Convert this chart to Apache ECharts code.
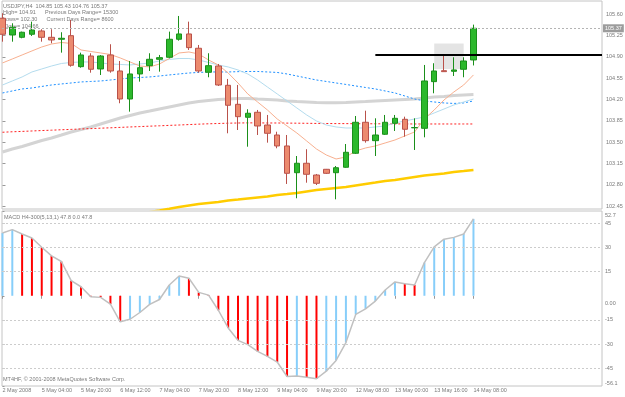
<!DOCTYPE html>
<html>
<head>
<meta charset="utf-8">
<script src="https://cdn.jsdelivr.net/npm/echarts@6/dist/echarts.min.js"></script>
<style>
  html, body { margin: 0; padding: 0; background: #fff; }
  #chart { width: 625px; height: 397px; }
</style>
</head>
<body>
<div id="chart"></div>
<script>
// USDJPY H4 bars, one entry per bar (index 0 = leftmost, partly cut off)
const opens  = [105.535, 105.260, 105.222, 105.272, 105.326, 105.222, 105.190, 105.249, 104.740, 104.915,
                104.702, 104.932, 104.669, 104.209, 104.620, 104.756, 104.861, 104.894, 105.190, 105.277,
                105.042, 104.648, 104.751, 104.434, 104.122, 103.909, 103.991, 103.782, 103.618, 103.438,
                102.999, 103.154, 102.961, 103.055, 102.999, 103.088, 103.318, 103.827, 103.525, 103.630,
                103.810, 103.876, 103.736, 103.728, 104.494, 104.674, 104.664, 104.697, 104.85];
const highs  = [105.617, 105.452, 105.315, 105.479, 105.354, 105.354, 105.305, 105.507, 104.970, 104.960,
                104.930, 105.108, 104.833, 104.833, 104.833, 104.960, 104.932, 105.315, 105.572, 105.479,
                105.096, 104.960, 104.784, 104.538, 104.439, 104.040, 104.029, 103.947, 103.672, 103.618,
                103.273, 103.384, 102.978, 103.060, 103.109, 103.470, 103.930, 104.017, 103.892, 103.947,
                103.947, 103.919, 103.892, 104.768, 104.796, 104.915, 104.894, 104.894, 105.43];
const lows   = [105.150, 105.150, 105.206, 105.244, 105.150, 105.124, 104.970, 104.740, 104.723, 104.641,
                104.603, 104.641, 104.139, 104.001, 104.494, 104.669, 104.658, 104.878, 105.167, 105.014,
                104.641, 104.566, 104.423, 103.646, 103.700, 103.426, 103.618, 103.492, 103.400, 102.814,
                102.579, 102.835, 102.797, 102.978, 102.562, 103.081, 103.306, 103.492, 103.273, 103.618,
                103.684, 103.590, 103.372, 103.580, 104.303, 104.658, 104.587, 104.566, 104.76];
const closes = [105.272, 105.387, 105.305, 105.342, 105.222, 105.178, 105.206, 104.763, 104.932, 104.697,
                104.915, 104.669, 104.209, 104.620, 104.723, 104.861, 104.888, 105.190, 105.277, 105.052,
                104.669, 104.756, 104.439, 104.106, 103.919, 103.975, 103.766, 103.646, 103.438, 102.989,
                103.154, 102.973, 102.825, 102.989, 103.081, 103.334, 103.827, 103.525, 103.618, 103.827,
                103.892, 103.712, 103.740, 104.505, 104.669, 104.658, 104.686, 104.833, 105.37];

// moving averages
const maSalmon = [104.801, 104.866, 104.932, 104.998, 105.063, 105.112, 105.137, 105.121, 105.014, 104.989,
                  104.965, 104.940, 104.883, 104.817, 104.751, 104.735, 104.784, 104.874, 104.965, 104.981,
                  104.948, 104.850, 104.768, 104.636, 104.472, 104.292, 104.160, 104.029, 103.881, 103.766,
                  103.651, 103.520, 103.388, 103.290, 103.224, 103.257, 103.356, 103.405, 103.438, 103.487,
                  103.536, 103.602, 103.668, 103.881, 104.029, 104.193, 104.324, 104.439, 104.604];
const maLightBlue = [104.439, 104.505, 104.571, 104.653, 104.702, 104.751, 104.792, 104.809, 104.817, 104.817,
                     104.801, 104.784, 104.776, 104.768, 104.784, 104.801, 104.833, 104.858, 104.874, 104.874,
                     104.850, 104.809, 104.768, 104.735, 104.686, 104.620, 104.521, 104.406, 104.292, 104.177,
                     104.062, 103.947, 103.848, 103.782, 103.750, 103.733, 103.733, 103.733, 103.750, 103.766,
                     103.815, 103.848, 103.881, 103.914, 103.980, 104.045, 104.111, 104.160, 104.209];
const maBlueDot = [104.308, 104.341, 104.374, 104.390, 104.415, 104.439, 104.456, 104.472, 104.489, 104.497,
                   104.505, 104.521, 104.538, 104.554, 104.562, 104.571, 104.587, 104.604, 104.620, 104.636,
                   104.645, 104.653, 104.653, 104.653, 104.658, 104.661, 104.661, 104.653, 104.645, 104.620,
                   104.587, 104.554, 104.521, 104.497, 104.472, 104.448, 104.423, 104.398, 104.374, 104.341,
                   104.308, 104.259, 104.209, 104.177, 104.160, 104.144, 104.136, 104.144, 104.177];
const maGray = [103.339, 103.388, 103.429, 103.479, 103.528, 103.569, 103.618, 103.668, 103.709, 103.750,
                103.799, 103.848, 103.897, 103.939, 103.980, 104.012, 104.045, 104.078, 104.111, 104.144,
                104.168, 104.185, 104.201, 104.209, 104.218, 104.218, 104.209, 104.201, 104.193, 104.177,
                104.168, 104.160, 104.152, 104.149, 104.149, 104.152, 104.160, 104.168, 104.177, 104.185,
                104.193, 104.201, 104.209, 104.226, 104.242, 104.250, 104.267, 104.275, 104.283];
const maRedDot = [103.663, 103.671, 103.677, 103.684, 103.691, 103.697, 103.704, 103.710, 103.717, 103.723,
                  103.730, 103.736, 103.743, 103.750, 103.756, 103.763, 103.769, 103.776, 103.782, 103.789,
                  103.796, 103.802, 103.807, 103.812, 103.815, 103.817, 103.817, 103.815, 103.815, 103.813,
                  103.812, 103.810, 103.808, 103.807, 103.805, 103.805, 103.803, 103.803, 103.802, 103.802,
                  103.800, 103.800, 103.799, 103.799, 103.799, 103.799, 103.799, 103.799, 103.799];
const maYellow = [null, null, null, null, null, null, null, null, null, null,
                  null, null, null, null, null, 102.354, 102.379, 102.407, 102.436, 102.461,
                  102.485, 102.502, 102.518, 102.543, 102.559, 102.576, 102.592, 102.608, 102.633, 102.649,
                  102.666, 102.691, 102.715, 102.732, 102.748, 102.764, 102.789, 102.814, 102.838, 102.863,
                  102.879, 102.904, 102.929, 102.953, 102.970, 102.986, 103.011, 103.027, 103.044];

// MACD H4-300(5,13,1)
const macd = [39.0, 41.1, 38.4, 35.9, 30.2, 24.8, 21.3, 9.4, 5.6, -0.6,
              -1.0, -5.2, -16.2, -14.6, -10.4, -5.4, -2.3, 6.7, 12.3, 10.9,
              2.1, 0.4, -9.0, -20.0, -27.7, -30.4, -34.6, -37.7, -41.2, -50.2,
              -49.9, -50.6, -51.6, -46.9, -40.2, -29.1, -11.6, -8.1, -3.3, 3.6,
              8.6, 7.5, 6.7, 20.6, 30.4, 35.2, 36.3, 38.4, 47.8];

const timeLabels = ['2 May 2008', '5 May 04:00', '5 May 20:00', '6 May 12:00', '7 May 04:00', '7 May 20:00',
                    '8 May 12:00', '9 May 04:00', '9 May 20:00', '12 May 08:00', '13 May 00:00', '13 May 16:00',
                    '14 May 08:00'];
const labelBars = [0, 4, 8, 12, 16, 20, 24, 28, 32, 36, 40, 44, 48];
const priceTicks = [102.45, 102.80, 103.15, 103.50, 103.85, 104.20, 104.55, 104.90, 105.25, 105.60];
const macdTicks = [52.7, 45, 30, 15, 0, -15, -30, -45, -56.1];
const macdLevels = [45, 30, 15, -15, -30, -45];

const infoLines = [
  'USDJPY,H4  104.85 105.43 104.76 105.37',
  'High= 104.91      Previous Days Range= 15300',
  'Lows= 102.30      Current Days Range= 8600',
  'Close= 104.66'
];
const macdTitle = 'MACD H4-300(5,13,1) 47.8 0.0 47.8';
const copyright = 'MT4HF, \u00a9 2001-2008 MetaQuotes Software Corp.';

// drawn objects on the chart: horizontal line and shaded box
const hLine = { from: 38, level: 104.93 };
const box = { from: 44, to: 47, top: 105.12, bottom: 104.70 };

const xMin = -0.05, xMax = 61.1;
const FONT = '"Liberation Sans", Arial, sans-serif';
const FS = 5.5;
const TXT = '#7a7a7a';

const candleData = opens.map((o, i) => [i, o, closes[i], lows[i], highs[i]]);
const toXY = arr => arr.map((v, i) => [i, v]).filter(p => p[1] != null);
const macdBars = macd.map((v, i) => ({
  value: [i, v],
  itemStyle: { color: (i === 0 || v >= macd[i - 1]) ? '#87cefa' : '#ff0000' }
}));

function maLine(name, data, color, width, type, z) {
  return {
    name: name, type: 'line', xAxisIndex: 0, yAxisIndex: 0,
    data: toXY(data), symbol: 'none', silent: true, z: z || 2,
    lineStyle: { color: color, width: width, type: type || 'solid' }
  };
}

const chart = echarts.init(document.getElementById('chart'));
chart.setOption({
  animation: false,
  backgroundColor: '#fff',
  textStyle: { fontFamily: FONT },
  grid: [
    { left: 2, top: 1, width: 600, height: 208, show: true, borderColor: '#c4c4c4', borderWidth: 1, outerBoundsMode: 'none' },
    { left: 2, top: 211, width: 600, height: 175, show: true, borderColor: '#c4c4c4', borderWidth: 1, outerBoundsMode: 'none' }
  ],
  xAxis: [
    { type: 'value', gridIndex: 0, min: xMin, max: xMax, show: false },
    {
      type: 'value', gridIndex: 1, min: xMin, max: xMax, position: 'bottom',
      axisLine: { show: false },
      splitLine: { show: false },
      axisTick: { show: true, customValues: labelBars, length: 3, lineStyle: { color: '#999' } },
      axisLabel: {
        customValues: labelBars, align: 'left', margin: 1,
        fontSize: FS, color: TXT, fontFamily: FONT,
        formatter: v => timeLabels[labelBars.indexOf(Math.round(v))] || ''
      }
    }
  ],
  yAxis: [
    {
      type: 'value', gridIndex: 0, position: 'right', min: 102.403, max: 105.818,
      splitLine: { show: false }, axisLine: { show: false },
      axisTick: { show: true, customValues: priceTicks, length: 3, lineStyle: { color: '#999' } },
      axisLabel: {
        customValues: priceTicks, margin: 4, fontSize: FS, color: TXT, fontFamily: FONT,
        formatter: v => v.toFixed(2)
      }
    },
    {
      type: 'value', gridIndex: 1, position: 'right', min: -56.1, max: 52.7,
      splitLine: { show: false }, axisLine: { show: false },
      axisTick: { show: true, customValues: macdTicks, length: 2, lineStyle: { color: '#999' } },
      axisLabel: {
        customValues: macdTicks, margin: 3, fontSize: FS, color: TXT, fontFamily: FONT,
        formatter: v => {
          if (v === 0) return '{z|0.00}';
          if (v === macdTicks[0]) return '{t|' + v + '}';
          if (v === macdTicks[macdTicks.length - 1]) return '{b|' + v + '}';
          return String(v);
        },
        rich: {
          z: { fontSize: FS, color: TXT, padding: [16, 0, 0, 0] },
          t: { fontSize: FS, color: TXT, padding: [8, 0, 0, 0] },
          b: { fontSize: FS, color: TXT, padding: [0, 0, 6, 0] }
        }
      }
    }
  ],
  graphic: infoLines.map((t, k) => ({
    type: 'text', x: 3, y: 6 + k * 6.8, z: 0, silent: true,
    style: { text: t, fill: TXT, font: FS + 'px ' + FONT, verticalAlign: 'middle' }
  })).concat([
    { type: 'text', x: 4, y: 217, silent: true,
      style: { text: macdTitle, fill: TXT, font: FS + 'px ' + FONT, verticalAlign: 'middle' } },
    { type: 'text', x: 3, y: 379, silent: true,
      style: { text: copyright, fill: TXT, font: FS + 'px ' + FONT, verticalAlign: 'middle' } }
  ]),
  series: [
    {
      type: 'line', xAxisIndex: 0, yAxisIndex: 0, data: [], z: 1, silent: true,
      markArea: {
        silent: true,
        itemStyle: { color: '#e4e4e4' },
        data: [[{ coord: [box.from, box.top] }, { coord: [box.to, box.bottom] }]]
      }
    },
    maLine('ma-gray', maGray, '#d4d4d4', 3),
    maLine('ma-red', maRedDot, '#ff2020', 1, [2, 2]),
    maLine('ma-blue', maBlueDot, '#1e90ff', 1, [2, 2]),
    maLine('ma-lightblue', maLightBlue, '#b4dcee', 1),
    maLine('ma-salmon', maSalmon, '#f8b090', 1),
    maLine('ma-yellow', maYellow, '#ffcc00', 2.5),
    {
      type: 'candlestick', xAxisIndex: 0, yAxisIndex: 0, data: candleData,
      barWidth: 6, z: 3, silent: true,
      itemStyle: {
        color: '#2cb82c', borderColor: '#1a8f1a',
        color0: '#ec8a6e', borderColor0: '#b9514a',
        borderWidth: 1
      },
      markLine: {
        silent: true, symbol: 'none', animation: false,
        data: [
          {
            yAxis: closes[closes.length - 1],
            lineStyle: { color: '#b4b4b4', width: 1, type: [2, 2] },
            label: {
              show: true, position: 'end', distance: 1,
              formatter: p => p.value.toFixed(2),
              color: '#fff', backgroundColor: '#9c9c9c', padding: [1, 2],
              fontSize: FS, fontFamily: FONT
            }
          },
          [
            { coord: [hLine.from, hLine.level], lineStyle: { color: '#000', width: 2, type: 'solid' }, label: { show: false } },
            { coord: [xMax, hLine.level] }
          ]
        ]
      }
    },
    {
      type: 'bar', xAxisIndex: 1, yAxisIndex: 1, data: macdBars,
      barWidth: 2, silent: true, z: 2
    },
    {
      type: 'line', xAxisIndex: 1, yAxisIndex: 1, data: toXY(macd),
      symbol: 'none', silent: true, z: 3,
      lineStyle: { color: '#c0c0c0', width: 1.5 },
      markLine: {
        silent: true, symbol: 'none', animation: false,
        label: { show: false },
        lineStyle: { color: '#cccccc', width: 1, type: [2, 2] },
        data: macdLevels.map(v => ({ yAxis: v }))
      }
    }
  ]
});
</script>
</body>
</html>
